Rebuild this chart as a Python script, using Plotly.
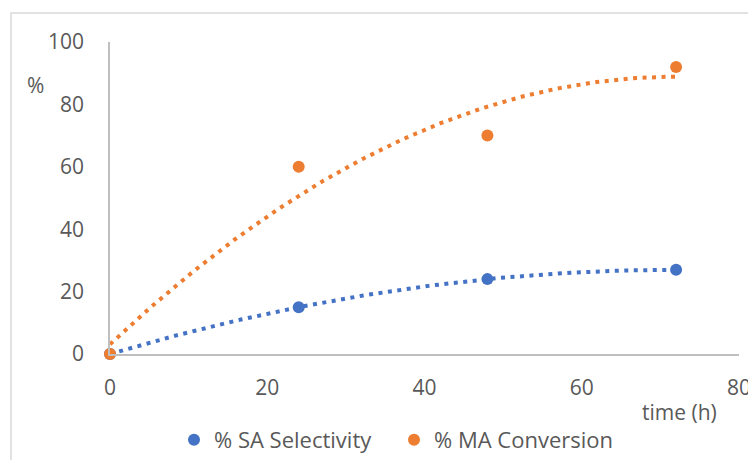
import numpy as np
import plotly.graph_objects as go

time_h = [0, 24, 48, 72]
sa_selectivity = [0, 15, 24, 27]
ma_conversion = [0, 60, 70, 92]
x_ticks = [0, 20, 40, 60, 80]
y_ticks = [0, 20, 40, 60, 80, 100]

BLUE = "#4472C4"
ORANGE = "#ED7D31"
TXT = "#595959"
FONT = "Open Sans"
FS = 21

# polynomial (order 2) trendlines, as the spreadsheet computes them
xs = np.linspace(min(time_h), max(time_h), 200)
sa_fit = np.polyval(np.polyfit(time_h, sa_selectivity, 2), xs)
ma_fit = np.polyval(np.polyfit(time_h, ma_conversion, 2), xs)

fig = go.Figure()
fig.add_trace(go.Scatter(x=xs, y=sa_fit, mode="lines", showlegend=False,
                         line=dict(color=BLUE, width=4, dash="4px,5.5px"),
                         hoverinfo="skip", cliponaxis=False))
fig.add_trace(go.Scatter(x=xs, y=ma_fit, mode="lines", showlegend=False,
                         line=dict(color=ORANGE, width=4, dash="4px,5.5px"),
                         hoverinfo="skip", cliponaxis=False))
fig.add_trace(go.Scatter(x=time_h, y=sa_selectivity, mode="markers",
                         name="% SA Selectivity",
                         marker=dict(color=BLUE, size=12), cliponaxis=False))
fig.add_trace(go.Scatter(x=time_h, y=ma_conversion, mode="markers",
                         name="% MA Conversion",
                         marker=dict(color=ORANGE, size=12), cliponaxis=False))

# the page body has an 8px margin, so figure coords = screen coords - 8
OFF = 8
W, H = 756 - OFF, 460 - OFF
L, T = 110 - OFF, 42 - OFF
R = W - (739 - OFF)
B = H - (354 - OFF)
pw, ph = W - L - R, H - T - B

def px(xs_):
    return (xs_ - OFF - L) / pw

def py(ys_):
    return (H - B - (ys_ - OFF)) / ph

fig.update_layout(
    width=W, height=H,
    margin=dict(l=L, r=R, t=T, b=B, autoexpand=False),
    paper_bgcolor="white", plot_bgcolor="white",
    font=dict(family=FONT, size=FS, color=TXT),
    showlegend=True,
    legend=dict(orientation="h", x=px(174), y=py(440), xanchor="left",
                yanchor="middle", font=dict(size=22, color=TXT),
                itemwidth=30, tracegroupgap=0,
                entrywidth=175, entrywidthmode="pixels"),
    xaxis=dict(range=[0, 80], tickvals=x_ticks, showgrid=False,
               zeroline=False, showline=True, linecolor="#bfbfbf",
               linewidth=1.5, ticks="", ticklabelstandoff=14),
    yaxis=dict(range=[0, 100], tickvals=y_ticks, showgrid=False,
               zeroline=False, showline=True, linecolor="#bfbfbf",
               linewidth=1.5, ticks="", ticklabelstandoff=20),
    annotations=[
        dict(text="%", xref="paper", yref="paper", x=px(35), y=py(85),
             showarrow=False, xanchor="center", yanchor="middle",
             font=dict(size=FS, color=TXT)),
        dict(text="time (h)", xref="paper", yref="paper", x=px(679), y=py(412),
             showarrow=False, xanchor="center", yanchor="middle",
             font=dict(size=FS, color=TXT)),
    ],
    shapes=[
        dict(type="rect", xref="paper", yref="paper",
             x0=px(11), x1=px(800), y0=py(500), y1=py(13),
             line=dict(color="#d9d9d9", width=1.5), layer="below"),
    ],
)

fig.write_html("out.html")
